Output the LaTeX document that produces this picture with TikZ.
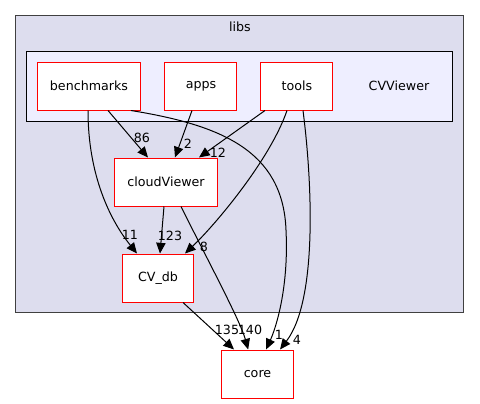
\documentclass[tikz,border=0pt]{standalone}
\usepackage{fontspec}
\setmainfont{DejaVu Sans}
\usetikzlibrary{arrows.meta}
\definecolor{libsfill}{HTML}{DDDDEE}
\definecolor{vwrfill}{HTML}{EEEEFF}
\definecolor{libsline}{HTML}{404040}
\begin{document}
\begin{tikzpicture}[x=0.75pt,y=-0.75pt,
    font=\fontsize{9.5}{11}\selectfont,
    dir/.style={draw=red,fill=white,line width=0.75pt,minimum height=36pt,inner sep=0pt},
    dep/.style={line width=0.75pt,-{Triangle[length=8pt,width=7pt]}},
    lbl/.style={inner sep=0pt}]
    \useasboundingbox (0,0) rectangle (480,404);
    % clusters
    \draw[libsline,fill=libsfill,line width=0.75pt] (15.7,15.7) rectangle (464,312.7);
    \node (libs) at (240,27) {libs};
    \draw[fill=vwrfill,line width=0.75pt] (26.7,51.7) rectangle (453,121);
    \node (cvviewer) at (399,86) {CVViewer};
    % directories
    \node[dir,minimum width=77pt] (bench) at (89,86) {benchmarks};
    \node[dir,minimum width=54pt] (apps) at (201,86) {apps};
    \node[dir,minimum width=54pt] (tools) at (297,86) {tools};
    \node[dir,minimum width=76.8pt] (cloud) at (166,182) {cloudViewer};
    \node[dir,minimum width=53.5pt] (cvdb) at (158,278) {CV\_db};
    \node[dir,minimum width=53.7pt] (core) at (257.5,374) {core};
    % dependencies
    \draw[dep] ([xshift=14.25pt]bench.south) -- ([xshift=-13.5pt]cloud.north);
    \draw[dep] ([xshift=-6.75pt]apps.south) -- ([xshift=6.75pt]cloud.north);
    \draw[dep] ([xshift=-24pt]tools.south) -- ([xshift=24.75pt]cloud.north);
    \draw[dep] ([xshift=-0.75pt]bench.south) .. controls (88,175) and (110,220) .. ([xshift=-15.75pt]cvdb.north);
    \draw[dep] ([xshift=-1.5pt]cloud.south) -- ([xshift=1.5pt]cvdb.north);
    \draw[dep] ([xshift=-7.5pt]tools.south) .. controls (270,160) and (215,225) .. ([xshift=20.25pt]cvdb.north);
    \draw[dep] ([xshift=11.25pt]cloud.south) .. controls (205,255) and (240,320) .. ([xshift=-7pt]core.north);
    \draw[dep] ([xshift=18.75pt]cvdb.south) -- ([xshift=-17.6pt]core.north);
    \draw[dep] ([xshift=31.5pt]bench.south) .. controls (220,125) and (283,150) .. (286,230)
        .. controls (289,290) and (275,330) .. ([xshift=6.4pt]core.north);
    \draw[dep] ([xshift=4.5pt]tools.south) .. controls (312,180) and (318,300) .. ([xshift=16.9pt]core.north);
    % labels
    \node[lbl] (l86) at (142,138) {86};
    \node[lbl] (l2) at (188,144) {2};
    \node[lbl] (l12) at (218,153) {12};
    \node[lbl] (l11) at (130,235) {11};
    \node[lbl] (l123) at (170,236) {123};
    \node[lbl] (l8) at (204,247) {8};
    \node[lbl] (l135) at (227,330) {135};
    \node[lbl] (l140) at (250,330) {140};
    \node[lbl] (l1) at (279,335) {1};
    \node[lbl] (l4) at (297,340) {4};
\end{tikzpicture}
\end{document}
